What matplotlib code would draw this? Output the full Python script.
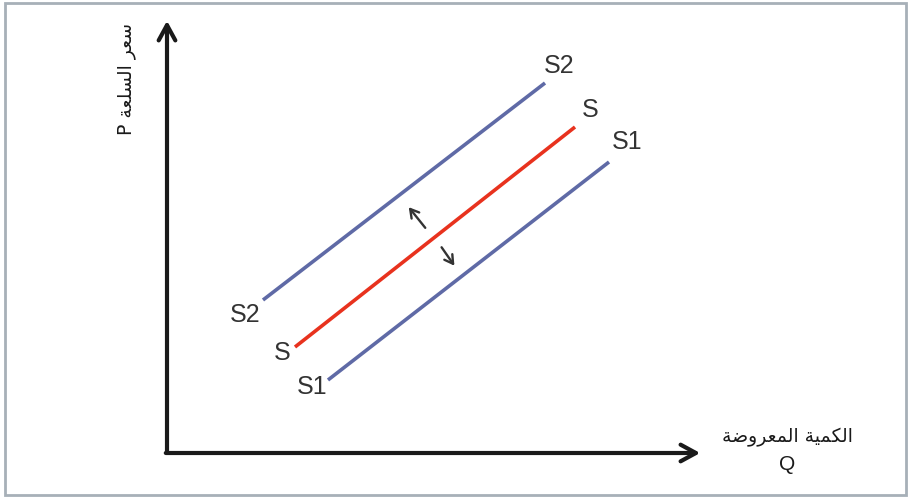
import matplotlib
matplotlib.use("Agg")
import matplotlib.pyplot as plt
from matplotlib.patches import Rectangle

# ---- data (Q, P units) ----
curve_names = ["S2", "S", "S1"]
q_start = [9.6, 12.8, 16.1]
p_start = [15.3, 10.6, 7.3]
q_end = [37.8, 40.8, 44.2]
p_end = [37.0, 32.6, 29.1]
curve_colors = ["#5f6aa6", "#e8321e", "#5f6aa6"]
low_label_q = [7.8, 11.5, 14.5]
low_label_p = [13.8, 10.0, 6.6]
high_label_q = [39.2, 42.3, 46.0]
high_label_p = [38.7, 34.3, 31.1]

q_axis_max = 53.6
p_axis_max = 43.5

# shift arrows: (tail_q, tail_p, tip_q, tip_p)
shift_up = (26.0, 22.3, 24.0, 24.8)
shift_down = (27.3, 20.8, 28.9, 18.5)

# Arabic labels (presentation forms, visual order)
y_label = "P " + "\uFE94\uFECC\uFEE0\uFEB4\uFEDF\uFE8D" + " " + "\uFEAE\uFECC\uFEB3"
x_label = "\uFE94\uFEBF\uFEED\uFEAE\uFECC\uFEE4\uFEDF\uFE8D" + " " + "\uFE94\uFEF4\uFEE4\uFEDC\uFEDF\uFE8D"

fig = plt.figure(figsize=(9.11, 5.0), dpi=100)
ax = fig.add_axes([0, 0, 1, 1])
ax.set_xlim(-16.7, 74.4)
ax.set_ylim(-4.7, 45.3)
ax.axis("off")

# frame
fig.patches.append(Rectangle((0.006, 0.01), 0.988, 0.985, transform=fig.transFigure,
                             fill=False, edgecolor="#a7b0b8", lw=2.0))

# axes arrows
ax.annotate("", xy=(q_axis_max, 0), xytext=(-0.4, 0),
            arrowprops=dict(arrowstyle="->,head_length=1.1,head_width=0.6", lw=3, color="#1a1a1a"))
ax.annotate("", xy=(0, p_axis_max), xytext=(0, -0.15),
            arrowprops=dict(arrowstyle="->,head_length=1.1,head_width=0.6", lw=3, color="#1a1a1a"))

# curves
for name, qs, ps, qe, pe, c in zip(curve_names, q_start, p_start, q_end, p_end, curve_colors):
    ax.plot([qs, qe], [ps, pe], color=c, lw=2.6, solid_capstyle="butt")

for name, q, p in zip(curve_names, low_label_q, low_label_p):
    ax.text(q, p, name, fontsize=18, family="Liberation Sans", color="#333333",
            ha="center", va="center")
for name, q, p in zip(curve_names, high_label_q, high_label_p):
    ax.text(q, p, name, fontsize=18, family="Liberation Sans", color="#333333",
            ha="center", va="center")

for a in (shift_up, shift_down):
    ax.annotate("", xy=(a[2], a[3]), xytext=(a[0], a[1]),
                arrowprops=dict(arrowstyle="->,head_length=0.6,head_width=0.35", lw=1.7, color="#333333"))

# axis titles
ax.text(62.0, 1.6, x_label, fontsize=13.5, family="DejaVu Sans", color="#1a1a1a",
        ha="center", va="center")
ax.text(62.0, -1.2, "Q", fontsize=15, family="Liberation Sans", color="#1a1a1a",
        ha="center", va="center")
ax.text(-4.0, 37.4, y_label, fontsize=13.5, family="DejaVu Sans", color="#1a1a1a",
        ha="center", va="center", rotation=90)

fig.savefig("out.png", dpi=100)
